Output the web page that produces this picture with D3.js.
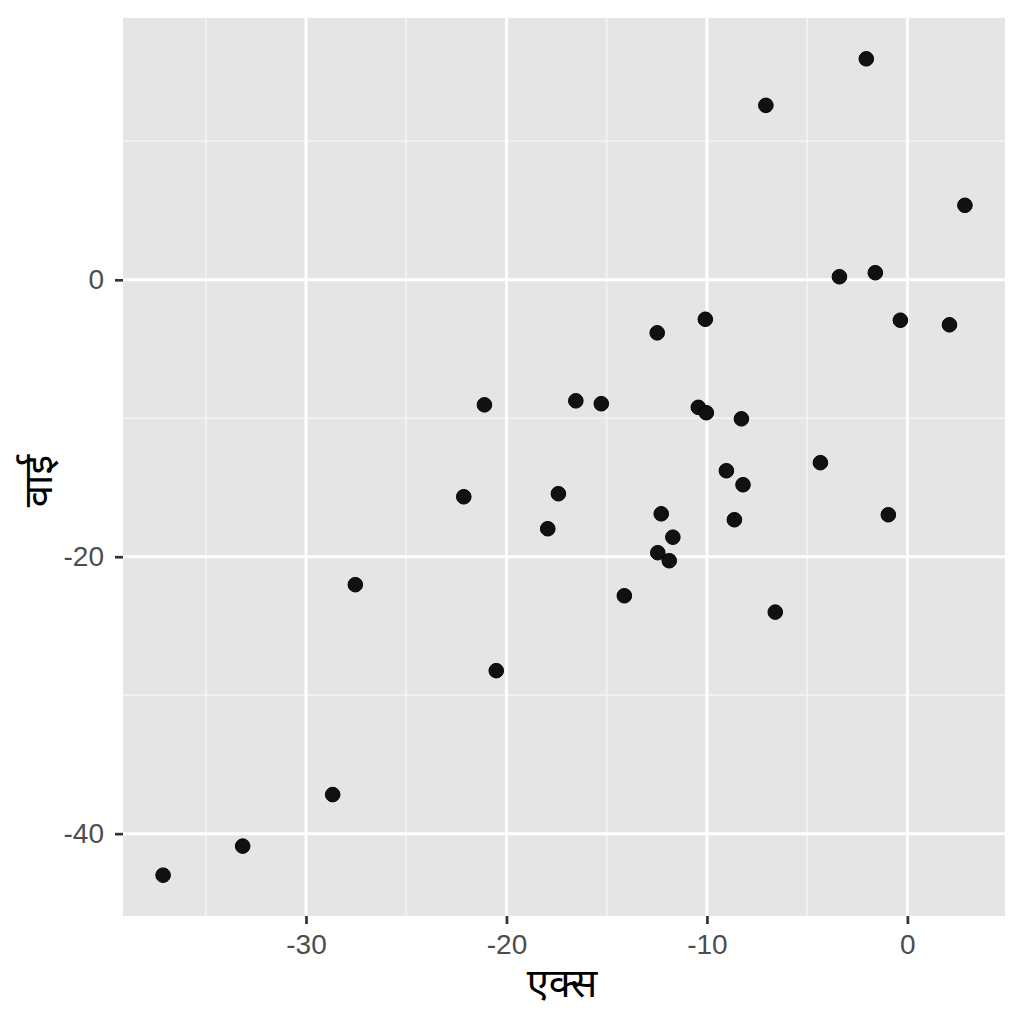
<!DOCTYPE html>
<html><head><meta charset="utf-8">
<script src="https://cdn.jsdelivr.net/npm/d3@7"></script>
<style>
body{margin:0;background:#fff;}
svg{display:block;}
text{font-family:"Liberation Sans",Arial,"Noto Sans Devanagari","Noto Sans",sans-serif;}
</style></head>
<body>
<svg id="chart" width="1024" height="1024"></svg>
<script>
const xValues = [-2.05,-7.06,2.87,-3.39,-1.60,-0.35,2.10,-10.08,-12.48,-21.1,-16.54,-15.27,-10.43,-10.03,-8.28,-4.34,-9.03,-8.2,-22.13,-17.41,-12.28,-8.63,-0.95,-17.94,-11.70,-12.45,-11.88,-27.54,-14.12,-6.59,-20.51,-28.67,-33.16,-37.13];
const yValues = [15.96,12.6,5.38,0.22,0.51,-2.92,-3.25,-2.85,-3.83,-9.03,-8.74,-8.95,-9.21,-9.6,-10.04,-13.21,-13.79,-14.8,-15.67,-15.45,-16.9,-17.33,-16.97,-17.98,-18.59,-19.71,-20.29,-22.02,-22.82,-24.0,-28.23,-37.18,-40.9,-43.0];
const xTicks = [-30,-20,-10,0];
const xMinor = [-35,-25,-15,-5];
const yTicks = [-40,-20,0];
const yMinor = [-30,-10,10];
const xTitle = "एक्स";
const yTitle = "वाई";

const svg = d3.select("#chart");
const L = 123, R = 1005, T = 18, B = 916;

const xs = d3.extent(xValues), ys = d3.extent(yValues);
const xp = (xs[1]-xs[0])*0.05, yp = (ys[1]-ys[0])*0.05;
const x = d3.scaleLinear().domain([xs[0]-xp, xs[1]+xp]).range([L, R]);
const y = d3.scaleLinear().domain([ys[0]-yp, ys[1]+yp]).range([B, T]);

svg.append("rect").attr("x",L).attr("y",T).attr("width",R-L).attr("height",B-T).attr("fill","#e5e5e5");

const g = svg.append("g");
g.selectAll(".xmin").data(xMinor).join("line")
  .attr("x1",d=>x(d)).attr("x2",d=>x(d)).attr("y1",T).attr("y2",B)
  .attr("stroke","#f4f4f4").attr("stroke-width",1.5);
g.selectAll(".ymin").data(yMinor).join("line")
  .attr("y1",d=>y(d)).attr("y2",d=>y(d)).attr("x1",L).attr("x2",R)
  .attr("stroke","#f4f4f4").attr("stroke-width",1.5);
g.selectAll(".xmaj").data(xTicks).join("line")
  .attr("x1",d=>x(d)).attr("x2",d=>x(d)).attr("y1",T).attr("y2",B)
  .attr("stroke","#ffffff").attr("stroke-width",3);
g.selectAll(".ymaj").data(yTicks).join("line")
  .attr("y1",d=>y(d)).attr("y2",d=>y(d)).attr("x1",L).attr("x2",R)
  .attr("stroke","#ffffff").attr("stroke-width",3);

// axes
const xAxis = d3.axisBottom(x).tickValues(xTicks).tickSize(8).tickPadding(10).tickFormat(d3.format("d"));
const yAxis = d3.axisLeft(y).tickValues(yTicks).tickSize(8).tickPadding(11).tickFormat(d3.format("d"));
const gx = svg.append("g").attr("transform",`translate(0,${B})`).call(xAxis);
const gy = svg.append("g").attr("transform",`translate(${L},0)`).call(yAxis);
[gx,gy].forEach(a=>{
  a.select(".domain").remove();
  a.selectAll(".tick line").attr("stroke","#333").attr("stroke-width",2.7);
  a.selectAll(".tick text").attr("fill","#4d4d4d").style("font-size","28px").text(d=>d<0?"-"+Math.abs(d):d);
});

// points
svg.append("g").selectAll("circle").data(xValues.map((v,i)=>[v,yValues[i]])).join("circle")
  .attr("cx",d=>x(d[0])).attr("cy",d=>y(d[1])).attr("r",7.3)
  .attr("fill","#111").attr("stroke","#000").attr("stroke-width",1);

// titles
svg.append("text").attr("x",(L+R)/2 - 2).attr("y",997).attr("text-anchor","middle")
  .attr("fill","#000").style("font-size","40px").text(xTitle);
svg.append("text").attr("transform",`translate(52,${(T+B)/2 + 14}) rotate(-90)`).attr("text-anchor","middle")
  .attr("fill","#000").style("font-size","40px").text(yTitle);
</script>
</body></html>
